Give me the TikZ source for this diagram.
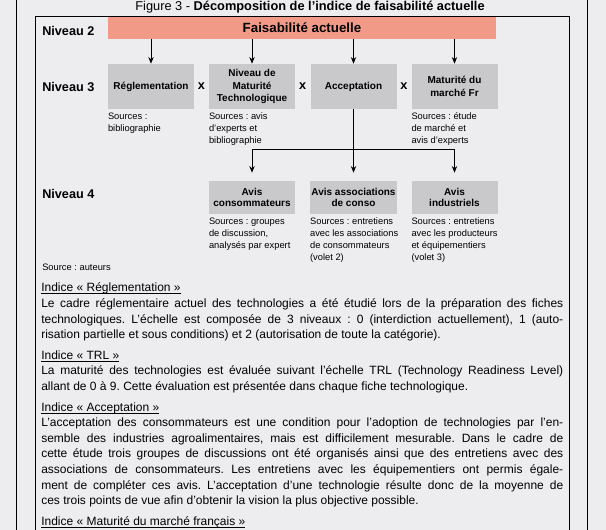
\documentclass[tikz,border=0pt]{standalone}
\usepackage{fontspec}
\setmainfont{Liberation Sans}
\frenchspacing
\usetikzlibrary{arrows.meta,positioning,calc}
\definecolor{SBg}{HTML}{EDEDF0}
\definecolor{SFai}{HTML}{F29A88}
\definecolor{SBox}{HTML}{C9C9CB}
\newcommand\souligne[1]{\leavevmode\setbox0\hbox{#1}\rlap{\rule[-1.6pt]{\wd0}{0.6pt}}\box0}
\tikzset{
  nivlabel/.style={anchor=west, inner sep=0pt,
                   font=\fontsize{9.5}{11}\selectfont\bfseries},
  critbox/.style={fill=SBox, minimum width=64.5pt, minimum height=33.75pt,
                  inner sep=1pt, align=center,
                  font=\fontsize{7.5}{9.3}\selectfont\bfseries},
  subbox/.style={critbox, minimum height=24.75pt,
                 font=\fontsize{7.5}{8.7}\selectfont\bfseries},
  srctxt/.style={inner sep=0pt, align=left,
                 font=\fontsize{7}{9}\selectfont},
  timesx/.style={inner sep=0pt, font=\fontsize{9.5}{11}\selectfont\bfseries},
  fleche/.style={-{Stealth[length=5pt,width=4pt]}, line width=0.75pt},
  trait/.style={line width=0.75pt}
}

\begin{document}
\begin{tikzpicture}[x=0.75pt,y=-0.75pt]
  \fill[SBg] (0,0) rectangle (606,530);
  \useasboundingbox (0,0) rectangle (606,530);
  \draw[trait] (16,0) -- (16,530) (587,0) -- (587,530);
  \draw[trait] (35,530) -- (35,17) -- (569,17) -- (569,530);

  \node[inner sep=0pt, font=\fontsize{9.6}{11}\selectfont] (titre) at (310,7)
    {Figure 3 - \textbf{Décomposition de l’indice de faisabilité actuelle}};

  \node[fill=SFai, minimum width=291pt, minimum height=16.5pt, inner sep=0pt,
        font=\fontsize{10}{12}\selectfont\bfseries] (fais) at (302,28)
    {Faisabilité actuelle};

  \node[nivlabel] (niv2) at (42,31) {Niveau 2};
  \node[nivlabel] (niv3) at (42,87) {Niveau 3};
  \node[nivlabel] (niv4) at (42,194) {Niveau 4};

  \node[critbox] (regl)   at (151,86.5)   {Réglementation};
  \node[critbox] (trl)    at (252,86.5)   {Niveau de\\ Maturité\\ Technologique};
  \node[critbox] (accept) at (353.5,86.5) {Acceptation};
  \node[critbox] (marche) at (454.5,86.5) {Maturité du\\ marché Fr};

  \node[timesx] (x1) at ($(regl.east)!0.5!(trl.west)$) {x};
  \node[timesx] (x2) at ($(trl.east)!0.5!(accept.west)$) {x};
  \node[timesx] (x3) at ($(accept.east)!0.5!(marche.west)$) {x};

  \foreach \n in {regl,trl,accept,marche}
    \draw[fleche] (\n |- fais.south) -- (\n.north);

  \node[subbox] (conso) at (252,197.5)   {Avis\\ consommateurs};
  \node[subbox] (assoc) at (353.5,197.5) {Avis associations\\ de conso};
  \node[subbox] (indus) at (454.5,197.5) {Avis\\ industriels};

  \coordinate (bus) at (353.5,150);
  \draw[fleche, shorten >=6pt] (indus |- bus) -- (conso |- bus) -- (conso.north);
  \draw[fleche, shorten >=6pt] (indus |- bus) -- (indus.north);
  \draw[fleche, shorten >=6pt] (accept.south) -- (assoc.north);

  \node[srctxt, below=2.5pt of regl.south west, anchor=north west] (srcregl)
    {Sources :\\ bibliographie};
  \node[srctxt, below=2.5pt of trl.south west, anchor=north west] (srctrl)
    {Sources : avis\\ d’experts et\\ bibliographie};
  \node[srctxt, below=2.5pt of marche.south west, anchor=north west] (srcmarche)
    {Sources : étude\\ de marché et\\ avis d’experts};
  \node[srctxt, below=2.5pt of conso.south west, anchor=north west] (srcconso)
    {Sources : groupes\\ de discussion,\\ analysés par expert};
  \node[srctxt, below=2.5pt of assoc.south west, anchor=north west] (srcassoc)
    {Sources : entretiens\\ avec les associations\\ de consommateurs\\ (volet 2)};
  \node[srctxt, below=2.5pt of indus.south west, anchor=north west] (srcindus)
    {Sources : entretiens\\ avec les producteurs\\ et équipementiers\\ (volet 3)};

  \node[srctxt, anchor=west] (srcaut) at (42,267) {Source : auteurs};

  \node[anchor=base west, inner sep=0pt, text width=391.5pt, align=justify,
        font=\fontsize{9}{11.7}\selectfont] (texte) at (41,292) {%
    \setlength{\parskip}{3.75pt}%
    \souligne{Indice « Réglementation »}\newline
    Le cadre réglementaire actuel des technologies a été étudié lors de la préparation des fiches\linebreak
    technologiques. L’échelle est composée de 3 niveaux : 0 (interdiction actuellement), 1 (auto-\linebreak
    risation partielle et sous conditions) et 2 (autorisation de toute la catégorie).\par
    \souligne{Indice « TRL »}\newline
    La maturité des technologies est évaluée suivant l’échelle TRL (Technology Readiness Level)\linebreak
    allant de 0 à 9. Cette évaluation est présentée dans chaque fiche technologique.\par
    \souligne{Indice « Acceptation »}\newline
    L’acceptation des consommateurs est une condition pour l’adoption de technologies par l’en-\linebreak
    semble des industries agroalimentaires, mais est difficilement mesurable. Dans le cadre de\linebreak
    cette étude trois groupes de discussions ont été organisés ainsi que des entretiens avec des\linebreak
    associations de consommateurs. Les entretiens avec les équipementiers ont permis égale-\linebreak
    ment de compléter ces avis. L’acceptation d’une technologie résulte donc de la moyenne de\linebreak
    ces trois points de vue afin d’obtenir la vision la plus objective possible.\par
    \souligne{Indice « Maturité du marché français »}};
\end{tikzpicture}
\end{document}
